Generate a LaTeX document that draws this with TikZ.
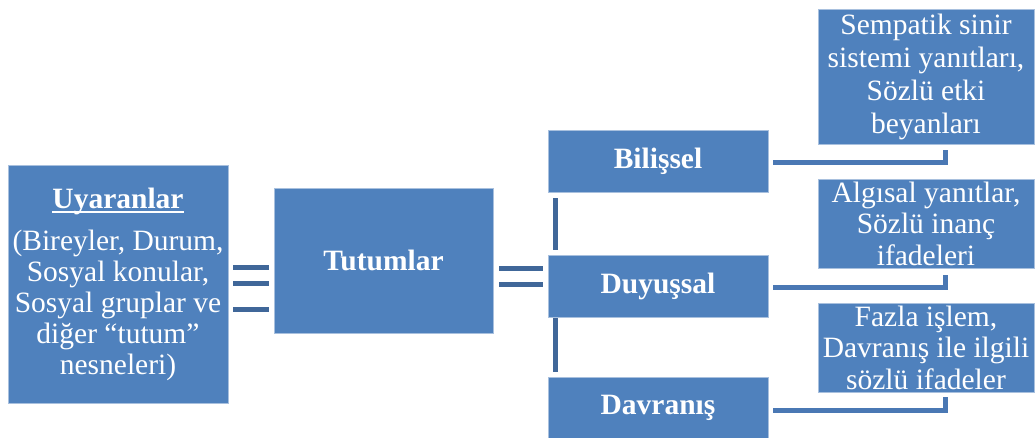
\documentclass[tikz,border=0pt]{standalone}
\usepackage{fontspec}
\setmainfont{Liberation Serif}
\usepackage{tikz}

\definecolor{kutu}{RGB}{79,129,189}
\definecolor{kenar}{RGB}{168,192,222}
\definecolor{cizgi}{RGB}{64,103,153}
\definecolor{baglanti}{RGB}{74,120,180}

\newcommand{\alticizili}[1]{\setbox0\hbox{#1}\rlap{\rule[-5pt]{\wd0}{1.8pt}}\box0}

\begin{document}
\begin{tikzpicture}[
    x=1pt, y=-1pt,
    box/.style={
        rectangle,
        draw=kenar,
        fill=kutu,
        line width=0.8pt,
        text=white,
        align=center,
        inner sep=1pt,
        font=\fontsize{29.5}{33}\selectfont
    },
    bar/.style={draw=cizgi, line width=5pt},
    link/.style={draw=baglanti, line width=5pt}
]
\useasboundingbox (0,0) rectangle (1036,438);

% uyaranlar ve tutumlar
\node[box, minimum width=220pt, minimum height=238pt, font=\fontsize{29.5}{31}\selectfont] (uyar) at (118,284)
    {\textbf{\alticizili{Uyaranlar}}\\[11pt] (Bireyler, Durum,\\ Sosyal konular,\\ Sosyal gruplar ve\\ diğer “tutum”\\ nesneleri)};
\node[box, minimum width=219pt, minimum height=145pt] (tut) at (383.5,260.5) {\textbf{Tutumlar}};

% tutumun bileşenleri
\node[box, minimum width=220pt, minimum height=62pt] (bil) at (658,161) {\textbf{Bilişsel}};
\node[box, minimum width=220pt, minimum height=62pt] (duy) at (658,286) {\textbf{Duyuşsal}};
\node[box, minimum width=220pt, minimum height=62pt] (dav) at (658,408) {\textbf{Davranış}};

% yanıt türleri
\node[box, minimum width=216pt, minimum height=135pt] (sem) at (926,76.5)
    {Sempatik sinir\\ sistemi yanıtları,\\ Sözlü etki\\ beyanları};
\node[box, minimum width=216pt, minimum height=89pt, font=\fontsize{29.5}{31.5}\selectfont] (alg) at (926,223.5)
    {Algısal yanıtlar,\\ Sözlü inanç\\ ifadeleri};
\node[box, minimum width=216pt, minimum height=89pt, font=\fontsize{29.5}{31.5}\selectfont] (faz) at (926,347.5)
    {Fazla işlem,\\ Davranış ile ilgili\\ sözlü ifadeler};

% bağlantılar
\foreach \a/\b in {-16/7.5, 0/23.5, 26/49.5}
    \draw[bar] ([shift={(5,\a)}]uyar.east) -- ([shift={(-5,\b)}]tut.west);
\foreach \a/\b in {8.5/-17, 24.5/-1}
    \draw[bar] ([shift={(6,\a)}]tut.east) -- ([shift={(-5,\b)}]duy.west);
\draw[bar] ([shift={(7.5,6)}]bil.south west) -- ([shift={(7.5,-5)}]duy.north west);
\draw[bar] ([shift={(7.5,1)}]duy.south west) -- ([shift={(7.5,-5)}]dav.north west);

\draw[link] ([shift={(5,2)}]bil.east) -| ([shift={(19.5,6)}]sem.south);
\draw[link] ([shift={(5,1.5)}]duy.east) -| ([shift={(19.5,7)}]alg.south);
\draw[link] ([shift={(5,2.5)}]dav.east) -| ([shift={(19.5,5)}]faz.south);

\end{tikzpicture}
\end{document}
